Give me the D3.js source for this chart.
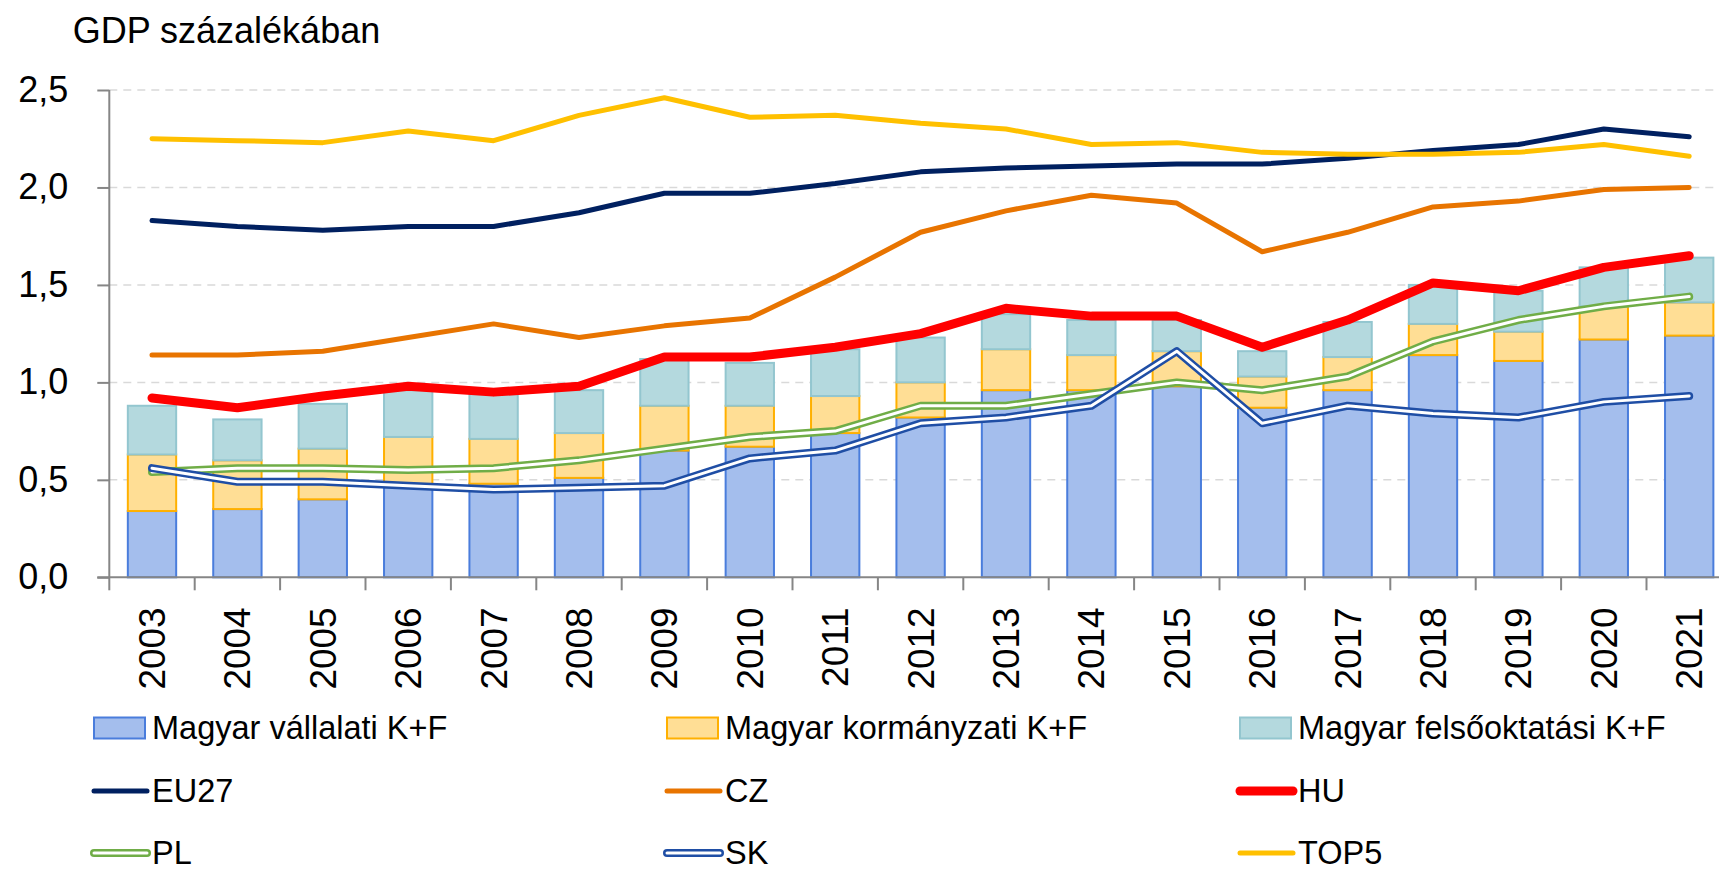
<!DOCTYPE html>
<html>
<head>
<meta charset="utf-8">
<script src="https://cdn.jsdelivr.net/npm/d3@7"></script>
<style>
  body { margin: 0; background: #fff; }
  svg { display: block; font-family: "Liberation Sans", Arial, sans-serif; }
</style>
</head>
<body>
<svg id="chart" width="1719" height="871"></svg>
<script>
const years = ["2003", "2004", "2005", "2006", "2007", "2008", "2009", "2010", "2011", "2012",
  "2013", "2014", "2015", "2016", "2017", "2018", "2019", "2020", "2021"];

// stacked bars (share of GDP)
const vallalati = [0.34, 0.35, 0.40, 0.47, 0.48, 0.51, 0.65, 0.67, 0.74, 0.82, 0.96, 0.96, 0.98, 0.87, 0.96, 1.14, 1.11, 1.22, 1.24];
const kormanyzati = [0.29, 0.25, 0.26, 0.25, 0.23, 0.23, 0.23, 0.21, 0.19, 0.18, 0.21, 0.18, 0.18, 0.16, 0.17, 0.16, 0.15, 0.17, 0.17];
const felsooktatasi = [0.25, 0.21, 0.23, 0.24, 0.23, 0.22, 0.24, 0.22, 0.24, 0.23, 0.18, 0.18, 0.16, 0.13, 0.18, 0.20, 0.21, 0.20, 0.23];

// lines
const eu27 = [1.83, 1.80, 1.78, 1.80, 1.80, 1.87, 1.97, 1.97, 2.02, 2.08, 2.10, 2.11, 2.12, 2.12, 2.15, 2.19, 2.22, 2.30, 2.26];
const cz = [1.14, 1.14, 1.16, 1.23, 1.30, 1.23, 1.29, 1.33, 1.54, 1.77, 1.88, 1.96, 1.92, 1.67, 1.77, 1.90, 1.93, 1.99, 2.00];
const hu = [0.92, 0.87, 0.93, 0.98, 0.95, 0.98, 1.13, 1.13, 1.18, 1.25, 1.38, 1.34, 1.34, 1.18, 1.32, 1.51, 1.47, 1.59, 1.65];
const pl = [0.54, 0.56, 0.56, 0.55, 0.56, 0.60, 0.66, 0.72, 0.75, 0.88, 0.88, 0.94, 1.00, 0.96, 1.03, 1.21, 1.32, 1.39, 1.44];
const sk = [0.56, 0.49, 0.49, 0.47, 0.45, 0.46, 0.47, 0.61, 0.65, 0.79, 0.82, 0.88, 1.16, 0.79, 0.88, 0.84, 0.82, 0.90, 0.93];
const top5 = [2.25, 2.24, 2.23, 2.29, 2.24, 2.37, 2.46, 2.36, 2.37, 2.33, 2.30, 2.22, 2.23, 2.18, 2.17, 2.17, 2.18, 2.22, 2.16];

const yTicks = [0, 0.5, 1.0, 1.5, 2.0, 2.5];
const title = "GDP százalékában";

const barSeries = [
  { name: "Magyar vállalati K+F", values: vallalati, fill: "#a4beed", stroke: "#4a7ddc" },
  { name: "Magyar kormányzati K+F", values: kormanyzati, fill: "#ffde95", stroke: "#ffb000" },
  { name: "Magyar felsőoktatási K+F", values: felsooktatasi, fill: "#b4d9de", stroke: "#93c6cf" },
];

const lineSeries = [
  { name: "EU27", values: eu27, color: "#002060", width: 5 },
  { name: "CZ", values: cz, color: "#e87400", width: 5 },
  { name: "HU", values: hu, color: "#ff0000", width: 9 },
  { name: "PL", values: pl, color: "#70ad47", width: 8, hollow: true },
  { name: "SK", values: sk, color: "#1f4ea5", width: 8, hollow: true },
  { name: "TOP5", values: top5, color: "#ffc000", width: 5 },
];

const svg = d3.select("#chart");
const plotLeft = 109.3, plotTop = 90, plotBottom = 577.3, step = 85.4;

const x = d3.scaleBand()
  .domain(years)
  .range([plotLeft, plotLeft + step * years.length])
  .paddingInner(0.434)
  .paddingOuter(0.217);

const y = d3.scaleLinear().domain([0, 2.5]).range([plotBottom, plotTop]);

const fmt = d3.formatLocale({ decimal: ",", thousands: " ", grouping: [3], currency: ["", ""] }).format(".1f");

// title
svg.append("text")
  .attr("x", 72.7)
  .attr("y", 43)
  .style("font-size", "36px")
  .text(title);

// gridlines
svg.append("g")
  .selectAll("line")
  .data(yTicks.filter(d => d > 0))
  .join("line")
  .attr("x1", plotLeft)
  .attr("x2", 1719)
  .attr("y1", d => y(d))
  .attr("y2", d => y(d))
  .attr("stroke", "#d9d9d9")
  .attr("stroke-width", 1.5)
  .attr("stroke-dasharray", "8,6");

// stacked bars
const stackRows = years.map((yr, i) => {
  const row = { year: yr };
  barSeries.forEach(s => { row[s.name] = s.values[i]; });
  return row;
});
const stacked = d3.stack().keys(barSeries.map(s => s.name))(stackRows);

svg.append("g")
  .selectAll("g")
  .data(stacked)
  .join("g")
  .attr("fill", (d, i) => barSeries[i].fill)
  .attr("stroke", (d, i) => barSeries[i].stroke)
  .attr("stroke-width", 2)
  .selectAll("rect")
  .data(d => d)
  .join("rect")
  .attr("x", d => x(d.data.year))
  .attr("width", x.bandwidth())
  .attr("y", d => y(d[1]))
  .attr("height", d => y(d[0]) - y(d[1]));

// axes
const yAxis = svg.append("g")
  .attr("transform", `translate(${plotLeft},0)`)
  .call(d3.axisLeft(y).tickValues(yTicks).tickFormat(fmt).tickSize(12).tickPadding(29));
yAxis.select(".domain").attr("d", `M0,${plotTop}V${plotBottom}`);
yAxis.selectAll("line, path").attr("stroke", "#868686").attr("stroke-width", 2);
yAxis.selectAll("text")
  .style("font-size", "36px")
  .style("font-family", "Liberation Sans, Arial, sans-serif")
  .attr("fill", "#000");

const xAxis = svg.append("g")
  .attr("transform", `translate(0,${plotBottom})`)
  .call(d3.axisBottom(x).tickSize(0).tickPadding(0));
xAxis.select(".domain").attr("d", `M${plotLeft - 12},0H1719`).attr("stroke", "#868686").attr("stroke-width", 2);
xAxis.selectAll("text")
  .attr("transform", "rotate(-90)")
  .attr("text-anchor", "end")
  .attr("x", -30)
  .attr("y", 0)
  .attr("dy", "0.35em")
  .style("font-size", "37px")
  .style("font-family", "Liberation Sans, Arial, sans-serif")
  .attr("fill", "#000");

// tick marks at band boundaries
xAxis.append("g")
  .selectAll("line")
  .data(years)
  .join("line")
  .attr("x1", d => x(d) - x.step() * x.paddingOuter())
  .attr("x2", d => x(d) - x.step() * x.paddingOuter())
  .attr("y1", 0)
  .attr("y2", 13)
  .attr("stroke", "#868686")
  .attr("stroke-width", 2);

// lines
const line = d3.line()
  .x((d, i) => x(years[i]) + x.bandwidth() / 2)
  .y(d => y(d));

const lines = svg.append("g").attr("fill", "none");
lineSeries.forEach(s => {
  lines.append("path")
    .attr("d", line(s.values))
    .attr("stroke", s.color)
    .attr("stroke-width", s.width)
    .attr("stroke-linejoin", "round")
    .attr("stroke-linecap", "round");
  if (s.hollow) {
    lines.append("path")
      .attr("d", line(s.values))
      .attr("stroke", "#fff")
      .attr("stroke-width", 3)
      .attr("stroke-linejoin", "round")
      .attr("stroke-linecap", "round");
  }
});

// legend
const colX = [93, 666, 1239];
const rowY = [728, 791, 853];
const legendItems = barSeries.map(s => ({ ...s, kind: "bar" }))
  .concat(lineSeries.map(s => ({ ...s, kind: "line" })));

const legend = svg.append("g")
  .selectAll("g")
  .data(legendItems)
  .join("g")
  .attr("transform", (d, i) => `translate(${colX[i % 3]},${rowY[Math.floor(i / 3)]})`);

legend.each(function (d) {
  const g = d3.select(this);
  if (d.kind === "bar") {
    g.append("rect")
      .attr("x", 1)
      .attr("y", -10.5)
      .attr("width", 51)
      .attr("height", 21)
      .attr("fill", d.fill)
      .attr("stroke", d.stroke)
      .attr("stroke-width", 2);
  } else {
    const w = d.hollow ? 8 : (d.width > 6 ? 9 : 5);
    g.append("line")
      .attr("x1", 1).attr("x2", 54)
      .attr("stroke", d.color)
      .attr("stroke-width", w)
      .attr("stroke-linecap", "round");
    if (d.hollow) {
      g.append("line")
        .attr("x1", 1).attr("x2", 54)
        .attr("stroke", "#fff")
        .attr("stroke-width", 3)
        .attr("stroke-linecap", "round");
    }
  }
  g.append("text")
    .attr("x", 59)
    .attr("y", 11)
    .style("font-size", "32.5px")
    .text(d.name);
});
</script>
</body>
</html>
